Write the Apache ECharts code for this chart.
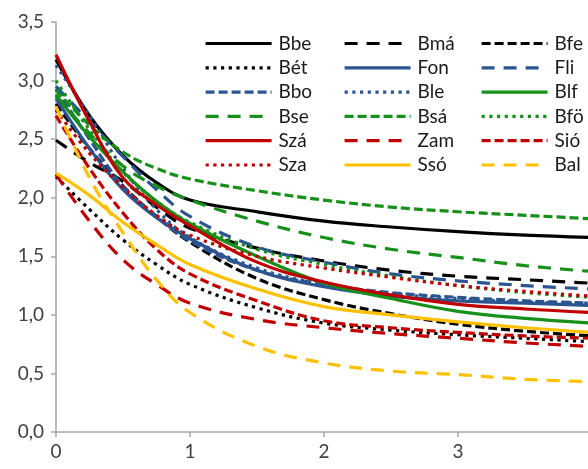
<!DOCTYPE html>
<html>
<head>
<meta charset="utf-8">
<script src="https://cdn.jsdelivr.net/npm/echarts@6/dist/echarts.min.js"></script>
<style>html,body{margin:0;padding:0;background:#fff}#c{width:588px;height:469px}</style>
</head>
<body>
<div id="c"></div>
<script>
// x sample positions
const xs = [0, 0.25, 0.5, 0.75, 1, 1.5, 2, 2.5, 3, 3.5, 4];
// axis tick labels
const yTicks = ['0,0','0,5','1,0','1,5','2,0','2,5','3,0','3,5'];
const xTicks = ['0','1','2','3',''];

// series values (same order as xs)
const Bbe = [3.18, 2.70, 2.36, 2.13, 1.98, 1.88, 1.80, 1.75, 1.71, 1.68, 1.66];
const Bma = [2.49, 2.30, 2.14, 1.92, 1.74, 1.57, 1.46, 1.38, 1.33, 1.30, 1.27];
const Bfe = [2.80, 2.42, 2.10, 1.84, 1.62, 1.31, 1.13, 1.01, 0.92, 0.86, 0.82];
const Bet = [2.18, 1.90, 1.64, 1.43, 1.26, 1.06, 0.93, 0.87, 0.83, 0.80, 0.77];
const Fon = [2.85, 2.42, 2.07, 1.83, 1.65, 1.38, 1.24, 1.16, 1.12, 1.10, 1.08];
const Fli = [2.95, 2.65, 2.35, 2.07, 1.84, 1.58, 1.45, 1.35, 1.29, 1.25, 1.22];
const Bbo = [2.93, 2.50, 2.10, 1.84, 1.63, 1.38, 1.26, 1.19, 1.15, 1.12, 1.10];
const Ble = [3.13, 2.70, 2.25, 1.90, 1.66, 1.40, 1.26, 1.18, 1.14, 1.11, 1.10];
const Blf = [2.88, 2.52, 2.22, 1.97, 1.78, 1.50, 1.27, 1.14, 1.03, 0.97, 0.93];
const Bse = [2.87, 2.55, 2.27, 2.10, 1.98, 1.80, 1.66, 1.56, 1.49, 1.42, 1.37];
const Bsa = [2.92, 2.62, 2.39, 2.25, 2.16, 2.06, 1.98, 1.92, 1.88, 1.85, 1.82];
const Bfo = [3.00, 2.58, 2.22, 1.97, 1.79, 1.56, 1.43, 1.33, 1.25, 1.19, 1.15];
const Sza1 = [3.22, 2.65, 2.17, 1.94, 1.76, 1.45, 1.28, 1.17, 1.09, 1.05, 1.02];
const Zam = [2.20, 1.80, 1.47, 1.26, 1.10, 0.96, 0.89, 0.84, 0.80, 0.76, 0.73];
const Sio = [2.70, 2.25, 1.87, 1.56, 1.35, 1.12, 0.95, 0.89, 0.85, 0.82, 0.80];
const Sza2 = [2.75, 2.38, 2.09, 1.85, 1.68, 1.50, 1.40, 1.32, 1.25, 1.20, 1.16];
const Sso = [2.21, 2.02, 1.79, 1.60, 1.43, 1.22, 1.07, 1.00, 0.94, 0.89, 0.85];
const Bal = [2.78, 2.17, 1.70, 1.30, 1.02, 0.73, 0.59, 0.52, 0.49, 0.45, 0.43];

const col1 = ['Bbe','Bét','Bbo','Bse','Szá','Sza'];
const col2 = ['Bmá','Fon','Ble','Bsá','Zam','Ssó'];
const col3 = ['Bfe','Fli','Blf','Bfö','Sió','Bal'];

const BLACK='#000000', BLUE='#2b5590', GREEN='#17901a', RED='#c00000', YEL='#ffc000';
const SOLID='solid', LONG=[13,9], SHORT=[9,4], DOT=[3.2,4.5];

const defs = [
  ['Bbe', Bbe, BLACK, SOLID], ['Bmá', Bma, BLACK, LONG], ['Bfe', Bfe, BLACK, SHORT],
  ['Bét', Bet, BLACK, DOT], ['Fon', Fon, BLUE, SOLID], ['Fli', Fli, BLUE, LONG],
  ['Bbo', Bbo, BLUE, SHORT], ['Ble', Ble, BLUE, DOT], ['Blf', Blf, GREEN, SOLID],
  ['Bse', Bse, GREEN, LONG], ['Bsá', Bsa, GREEN, SHORT], ['Bfö', Bfo, GREEN, DOT],
  ['Szá', Sza1, RED, SOLID], ['Zam', Zam, RED, LONG], ['Sió', Sio, RED, SHORT],
  ['Sza', Sza2, RED, DOT], ['Ssó', Sso, YEL, SOLID], ['Bal', Bal, YEL, LONG]
];

const series = defs.map(d => ({
  name: d[0], type: 'line', smooth: 0.4, symbol: 'none',
  data: xs.map((x, i) => [x, d[1][i]]),
  lineStyle: { color: d[2], width: 3.2, type: d[3], cap: 'butt' },
  itemStyle: { color: d[2] },
  emphasis: { disabled: true }, animation: false
}));

const FONT = 'Lato';
function mkLegend(data, left) {
  return {
    data: data, left: left, top: 34, orient: 'vertical', padding: 0,
    itemWidth: 66, itemHeight: 14, itemGap: 5.3,
    lineStyle: { width: 3.2 },
    itemStyle: { opacity: 0, borderWidth: 0 },
    textStyle: { fontFamily: FONT, fontSize: 19, lineHeight: 18, color: '#1a1a1a', padding: [0,0,0,2] },
    selectedMode: false
  };
}

const chart = echarts.init(document.getElementById('c'), null, { renderer: 'canvas' });
chart.setOption({
  animation: false,
  backgroundColor: '#fff',
  grid: { left: 56, top: 22, bottom: 37, width: 536, containLabel: false, outerBoundsMode: 'none' },
  legend: [mkLegend(col1, 204), mkLegend(col2, 343), mkLegend(col3, 480)],
  xAxis: {
    type: 'value', min: 0, max: 4, interval: 1,
    axisLine: { lineStyle: { color: '#a6a6a6', width: 1.5 } },
    axisTick: { show: true, length: 5, lineStyle: { color: '#a6a6a6', width: 1.5 } },
    splitLine: { show: false },
    axisLabel: { margin: 10, fontFamily: FONT, fontSize: 19, color: '#404040',
      formatter: v => xTicks[Math.round(v)] }
  },
  yAxis: {
    type: 'value', min: 0, max: 3.5, interval: 0.5,
    axisLine: { show: true, lineStyle: { color: '#a6a6a6', width: 1.5 } },
    axisTick: { show: true, length: 5, lineStyle: { color: '#a6a6a6', width: 1.5 } },
    splitLine: { show: false },
    axisLabel: { margin: 12, fontFamily: FONT, fontSize: 19, color: '#404040',
      formatter: v => yTicks[Math.round(v * 2)] }
  },
  series: series
});
</script>
</body>
</html>
